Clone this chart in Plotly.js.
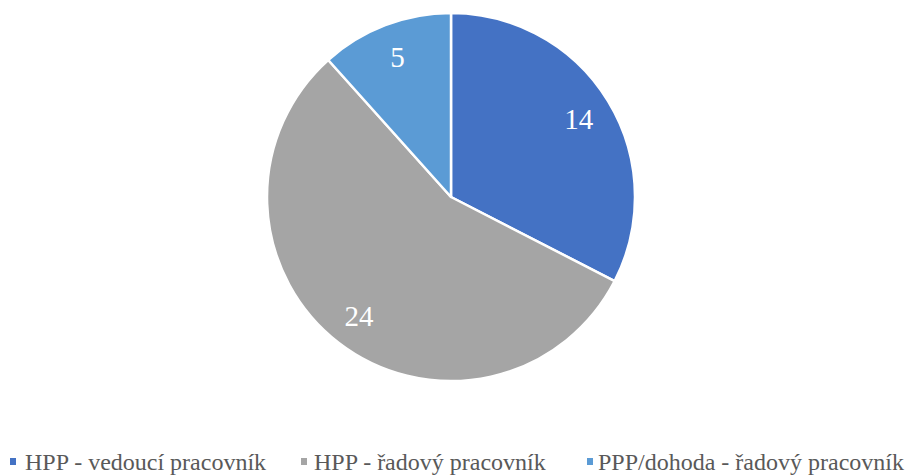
<!DOCTYPE html>
<html>
<head>
<meta charset="utf-8">
<script src="https://cdn.plot.ly/plotly-3.0.1.min.js"></script>
<style>html,body{margin:0;padding:0;background:#fff;}#chart{width:906px;height:475px;}</style>
</head>
<body>
<div id="chart"></div>
<script>
const categories = ["HPP - vedoucí pracovník", "HPP - řadový pracovník", "PPP/dohoda - řadový pracovník"];
const values = [14, 24, 5];
const colors = ["#4472C4", "#A5A5A5", "#5B9BD5"];

const FONT = "Liberation Serif";
const W = 906, H = 475;
const dom = { x: [0.2947, 0.7009], y: [0.1979, 0.9726] };
// legend entry left edges (px) for swatch and label
const swatchX = [10, 301, 587];
const labelX = [23, 312, 596];

const slices = {
  type: "pie", labels: categories, values: values, sort: false,
  direction: "clockwise", rotation: 0, showlegend: false,
  marker: { colors: colors, line: { color: "#ffffff", width: 2.5 } },
  textinfo: "none", hoverinfo: "none", domain: dom
};
// transparent ring overlay used only to place value labels further out
const labelsRing = {
  type: "pie", labels: categories, values: values, sort: false,
  direction: "clockwise", rotation: 0, hole: 0.63, showlegend: false,
  marker: { colors: ["rgba(0,0,0,0)", "rgba(0,0,0,0)", "rgba(0,0,0,0)"], line: { width: 0 } },
  textinfo: "value", textposition: "inside", insidetextorientation: "horizontal",
  insidetextfont: { family: FONT, size: 29, color: "#ffffff" },
  hoverinfo: "none", domain: dom
};

const legendY = 1 - 462 / H;
const annotations = categories.map((c, i) => ({
  xref: "paper", yref: "paper", x: labelX[i] / W, y: legendY,
  xanchor: "left", yanchor: "middle", showarrow: false,
  text: c, font: { family: FONT, size: 24, color: "#595959" }
}));
const shapes = categories.map((c, i) => ({
  type: "rect", xref: "paper", yref: "paper",
  x0: swatchX[i] / W, x1: (swatchX[i] + 6) / W,
  y0: 1 - 465 / H, y1: 1 - 458 / H,
  fillcolor: colors[i], line: { width: 0 }
}));

const layout = {
  width: W, height: H,
  margin: { l: 0, r: 0, t: 0, b: 0 },
  paper_bgcolor: "#ffffff",
  font: { family: FONT, size: 24, color: "#595959" },
  showlegend: false,
  annotations: annotations,
  shapes: shapes
};
Plotly.newPlot("chart", [slices, labelsRing], layout, { staticPlot: true, displayModeBar: false });
</script>
</body>
</html>
